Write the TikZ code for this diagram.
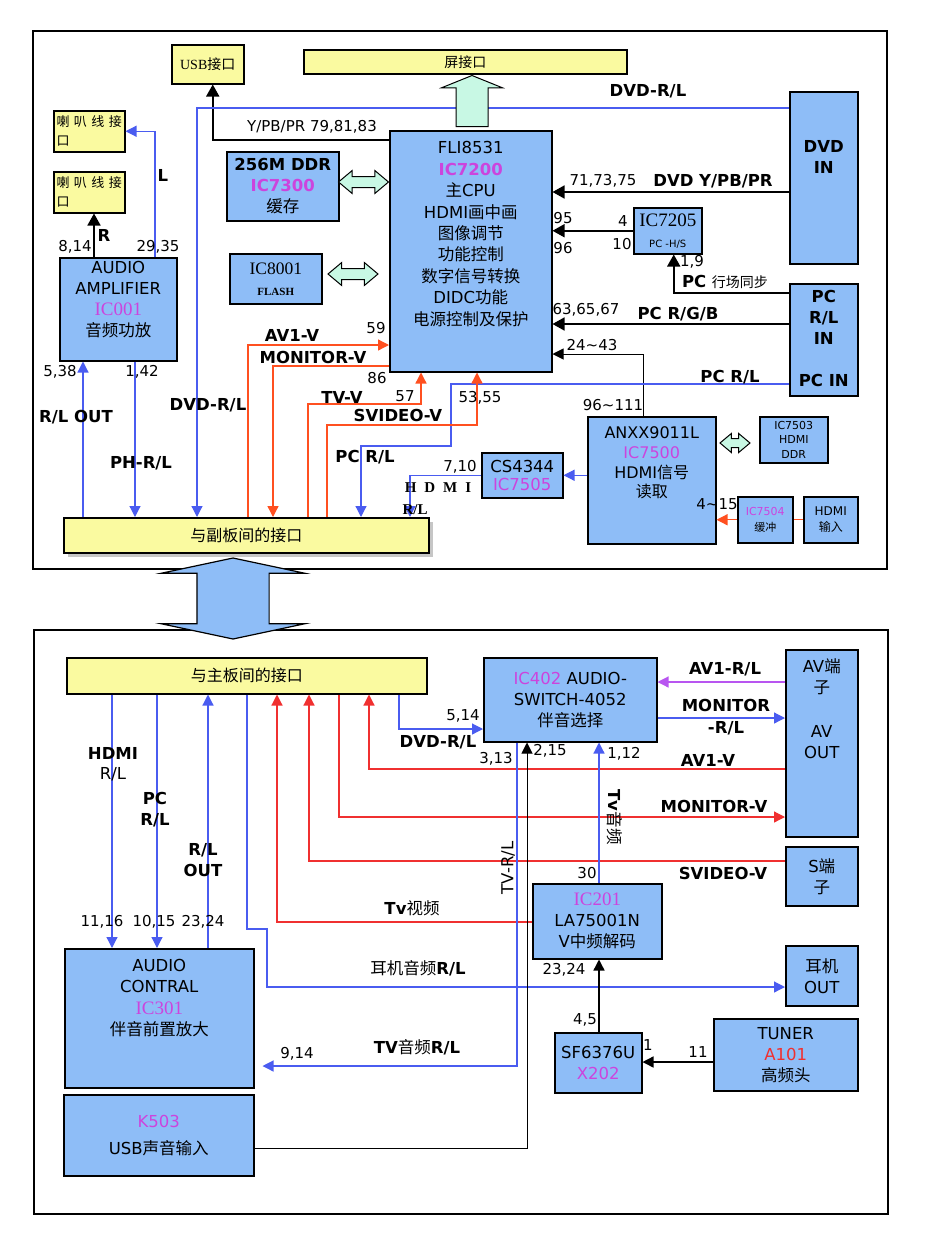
\documentclass[tikz,border=0pt]{standalone}
\usepackage{fontspec}
\setmainfont{DejaVu Sans}
\newfontfamily\cjk{Noto Sans CJK SC}
\newfontfamily\serifen{Liberation Serif}
\usetikzlibrary{arrows.meta,positioning,shapes.arrows,shadows}
\definecolor{azulbox}{HTML}{8EBDF7}
\definecolor{amarillo}{HTML}{FAFAA0}
\definecolor{menta}{HTML}{C8F8E4}
\definecolor{lineazul}{HTML}{4A5CF0}
\definecolor{rojoarriba}{HTML}{FF5020}
\definecolor{rojoabajo}{HTML}{F03030}
\definecolor{morado}{HTML}{B855F0}
\definecolor{icrosa}{HTML}{CC44DD}
\newcommand{\zh}[1]{{\cjk #1}}
\newcommand{\icname}[1]{\textcolor{icrosa}{#1}}
\newcommand{\fsmain}{\fontsize{16.5}{21}\selectfont}
\newcommand{\fsnum}{\fontsize{15}{18}\selectfont}
\newcommand{\fsserif}{\serifen\fontsize{19}{21}\selectfont}
\tikzset{
  frame/.style={draw,line width=1.5pt,anchor=north west,inner sep=0pt},
  blk/.style={draw,line width=1.5pt,fill=azulbox,anchor=north west,inner sep=1pt,
    align=center,font=\fsmain},
  ybox/.style={draw,line width=1.5pt,fill=amarillo,anchor=north west,inner sep=1pt,align=center},
  spk/.style={minimum width=71pt,minimum height=41pt,align=left,
    inner sep=2pt,font=\fontsize{13}{19}\selectfont},
  txt/.style={align=center,inner sep=0pt,font=\fsmain},
  lab/.style={inner sep=0pt,align=center,font=\fsmain\bfseries},
  num/.style={inner sep=0pt,font=\fsnum},
  mintdbl/.style={double arrow,draw,fill=menta,line width=1pt,inner xsep=0pt,
    inner ysep=5pt,double arrow head extend=6pt,double arrow tip angle=80},
  tipa/.style={-{Triangle[length=11pt,width=11pt]}},
  bluearr/.style={draw=lineazul,line width=1.2pt,tipa},
  redarr/.style={draw=rojoarriba,line width=1.3pt,tipa},
  redbarr/.style={draw=rojoabajo,line width=1.2pt,tipa},
  blackarr/.style={draw=black,line width=1.6pt,-{Triangle[length=12pt,width=13pt]}},
  thinarr/.style={draw=black,line width=1pt,tipa}
}
\begin{document}
\begin{tikzpicture}[x=1pt,y=-1pt]
\useasboundingbox (0,0) rectangle (950,1258);
\node[frame,minimum width=854pt,minimum height=538pt] (upper) at (32,30) {};
\node[frame,minimum width=854pt,minimum height=584pt] (lower) at (33,629) {};

\node[ybox,minimum width=72pt,minimum height=39pt,font=\serifen\fontsize{14}{16}\selectfont] (usb) at (171,44) {USB\zh{接口}};
\node[ybox,minimum width=323pt,minimum height=24pt,font=\fontsize{14}{16}\selectfont] (screen) at (303,49) {\zh{屏接口}};
\node[ybox,spk] (spk1) at (53,110) {\zh{喇\hspace{4.5pt}叭\hspace{4.5pt}线\hspace{4.5pt}接}\\\zh{口}};
\node[ybox,spk] (spk2) at (53,171) {\zh{喇\hspace{4.5pt}叭\hspace{4.5pt}线\hspace{4.5pt}接}\\\zh{口}};
\node[blk,minimum width=117pt,minimum height=103pt] (amp) at (59,257) {};
\node[txt] (amptxt) at (amp.center |- 0,300) {AUDIO\\AMPLIFIER\\\icname{\fsserif IC001}\\\zh{音频功放}};
\node[blk,minimum width=162pt,minimum height=241pt] (cpu) at (389,130) {};
\node[txt,font=\fontsize{16.5}{21.4}\selectfont] (cputxt) at (cpu.center |- 0,234) {FLI8531\\{\bfseries\icname{IC7200}}\\\zh{主}CPU\\HDMI\zh{画中画}\\\zh{图像调节}\\\zh{功能控制}\\\zh{数字信号转换}\\DIDC\zh{功能}\\\zh{电源控制及保护}};
\node[blk,minimum width=112pt,minimum height=69pt] (ddr) at (226,151) {\textbf{256M DDR}\\\textbf{\icname{IC7300}}\\\zh{缓存}};
\node[blk,minimum width=92pt,minimum height=50pt] (flash) at (229,253) {{\serifen\fontsize{17.5}{19}\selectfont IC8001}\\{\serifen\bfseries\fontsize{11}{14}\selectfont FLASH}};
\node[blk,minimum width=68pt,minimum height=172pt] (dvd) at (789,91) {};
\node[lab] (dvdtxt) at (dvd.center |- 0,157) {DVD\\IN};
\node[blk,minimum width=68pt,minimum height=112pt] (pc) at (789,283) {};
\node[lab] (pctxt) at (pc.center |- 0,317) {PC\\R/L\\IN};
\node[lab] (pcin) at (pc.center |- 0,380) {PC IN};
\node[blk,minimum width=68pt,minimum height=46pt] (ic7205) at (633,207) {{\serifen\fontsize{19}{19}\selectfont IC7205}\\{\fontsize{10}{12}\selectfont PC -H/S}};
\node[blk,minimum width=128pt,minimum height=127pt] (anxx) at (587,416) {};
\node[txt,font=\fontsize{16}{19.7}\selectfont] (anxxtxt) at (anxx.center |- 0,463) {ANXX9011L\\\icname{IC7500}\\HDMI\zh{信号}\\\zh{读取}};
\node[blk,minimum width=81pt,minimum height=45pt,font=\fontsize{16.5}{18}\selectfont] (cs) at (481,452) {CS4344\\\icname{IC7505}};
\node[blk,minimum width=68pt,minimum height=46pt,font=\fontsize{11}{14.5}\selectfont] (ic7503) at (759,416) {IC7503\\HDMI\\DDR};
\node[blk,minimum width=55pt,minimum height=46pt,font=\fontsize{11}{16}\selectfont] (ic7504) at (737,496) {\icname{IC7504}\\\zh{缓冲}};
\node[blk,minimum width=54pt,minimum height=46pt,font=\fontsize{12}{16}\selectfont] (hdmiin) at (803,496) {HDMI\\\zh{输入}};
\node[ybox,drop shadow={shadow xshift=4pt,shadow yshift=-4pt,opacity=.45},minimum width=365pt,minimum height=35pt,font=\fontsize{16}{18}\selectfont] (subconn) at (63,517) {\zh{与副板间的接口}};

\node[ybox,minimum width=360pt,minimum height=36pt,font=\fontsize{16}{18}\selectfont] (mainconn) at (66,657) {\zh{与主板间的接口}};
\node[blk,minimum width=173pt,minimum height=84pt] (ic402) at (483,657) {\icname{IC402} AUDIO-\\SWITCH-4052\\\zh{伴音选择}};
\node[blk,minimum width=72pt,minimum height=187pt] (av) at (785,649) {};
\node[txt] (avtxt) at (av.center |- 0,677) {AV\zh{端}\\\zh{子}};
\node[txt] (avout) at (av.center |- 0,742) {AV\\OUT};
\node[blk,minimum width=72pt,minimum height=59pt] (sbox) at (785,846) {S\zh{端}\\\zh{子}};
\node[blk,minimum width=72pt,minimum height=60pt] (ear) at (785,945) {\zh{耳机}\\OUT};
\node[blk,minimum width=144pt,minimum height=72pt] (tuner) at (713,1018) {TUNER\\\textcolor{rojoabajo}{A101}\\\zh{高频头}};
\node[blk,minimum width=87pt,minimum height=60pt] (sf) at (554,1032) {SF6376U\\\icname{X202}};
\node[blk,minimum width=129pt,minimum height=75pt] (ic201) at (532,883) {\icname{\fsserif IC201}\\LA75001N\\V\zh{中频解码}};
\node[blk,minimum width=189pt,minimum height=139pt] (actl) at (64,948) {};
\node[txt,font=\fontsize{16.5}{21.5}\selectfont] (actltxt) at (actl.center |- 0,998) {AUDIO\\CONTRAL\\\icname{\fsserif IC301}\\\zh{伴音前置放大}};
\node[blk,minimum width=190pt,minimum height=81pt,font=\fontsize{16.5}{27}\selectfont] (k503) at (63,1094) {\icname{K503}\\USB\zh{声音输入}};

\draw[blackarr] (cpu.west |- 0,140) -| ([xshift=5pt]usb.south);
\draw[bluearr] (dvd.west |- 0,108) -| (subconn.north -| 197,0);
\draw[blackarr] (dvd.west |- 0,192) -- (cpu.east |- 0,192);
\draw[blackarr] (ic7205.west) -- (cpu.east |- ic7205.west);
\draw[blackarr] (pc.west |- 0,293) -| ([xshift=6pt]ic7205.south);
\draw[blackarr] (pc.west |- 0,324) -- (cpu.east |- 0,324);
\draw[thinarr] ([xshift=-8pt]anxx.north) |- (cpu.east |- 0,354);
\draw[bluearr] (pc.west |- 0,384) -| (451,446) -| (subconn.north -| 361,0);
\draw[bluearr] (cs.west) -| (subconn.north -| 410,0);
\draw[bluearr] (anxx.west |- cs.east) -- (cs.east);
\draw[draw=rojoarriba,line width=1.3pt] (hdmiin.west) -- (ic7504.east);
\draw[redarr] (ic7504.west) -- (anxx.east |- ic7504.west);
\draw[redarr] (subconn.north -| 248,0) |- (cpu.west |- 0,345);
\draw[redarr] (cpu.west |- 0,366) -| (subconn.north -| 273,0);
\draw[redarr] (subconn.north -| 308,0) |- (421,404) -- (cpu.south -| 421,0);
\draw[redarr] (subconn.north -| 327,0) |- (477,425) -- (cpu.south -| 477,0);
\draw[blackarr] (amp.north -| 94,0) -- (spk2.south -| 94,0);
\draw[bluearr] (amp.north -| 155,0) |- (spk1.east);
\draw[bluearr] (subconn.north -| 83,0) -- (amp.south -| 83,0);
\draw[bluearr] (amp.south -| 135,0) -- (subconn.north -| 135,0);

\draw[bluearr] (mainconn.south -| 112,0) -- (actl.north -| 112,0);
\draw[bluearr] (mainconn.south -| 157,0) -- (actl.north -| 157,0);
\draw[bluearr] (actl.north -| 208,0) -- (mainconn.south -| 208,0);
\draw[bluearr] (mainconn.south -| 247,0) |- (267,929) |- (ear.west |- 0,987);
\draw[redbarr] (ic201.west |- 0,922) -| (mainconn.south -| 277,0);
\draw[redbarr] (sbox.west |- 0,861) -| (mainconn.south -| 309,0);
\draw[redbarr] (mainconn.south -| 339,0) |- (av.west |- 0,817);
\draw[redbarr] (av.west |- 0,769) -| (mainconn.south -| 369,0);
\draw[bluearr] (mainconn.south -| 399,0) |- (ic402.west |- 0,729);
\draw[draw=morado,line width=1.2pt,tipa] (av.west |- 0,682) -- (ic402.east |- 0,682);
\draw[bluearr] (ic402.east |- 0,718) -- (av.west |- 0,718);
\draw[bluearr] (ic201.north -| 599,0) -- (ic402.south -| 599,0);
\draw[bluearr,shorten >=8pt] (ic402.south -| 517,0) |- (actl.east |- 0,1066);
\draw[thinarr] (k503.east |- 0,1148) -| (ic402.south -| 527,0);
\draw[thinarr,line width=1.4pt] (sf.north -| 599,0) -- (ic201.south -| 599,0);
\draw[thinarr,line width=1.4pt] (tuner.west |- 0,1062) -- (sf.east |- 0,1062);

\node[single arrow,draw,fill=menta,line width=1pt,inner xsep=0pt,inner ysep=15.5pt,
  rotate=90,anchor=tail,minimum height=51pt,single arrow head extend=14.5pt,
  single arrow tip angle=136] (scrarrow) at (472,127) {};
\node[mintdbl,minimum height=50pt] (ddrlink) at (363.5,182) {};
\node[mintdbl,minimum height=50pt] (flashlink) at (353,274) {};
\node[mintdbl,minimum height=30pt,inner ysep=4pt,double arrow head extend=5pt] (hdmiddrlink) at (735,443) {};
\node[double arrow,draw,fill=azulbox,line width=1.2pt,inner xsep=0pt,inner ysep=35.5pt,
  rotate=90,minimum height=81pt,double arrow head extend=36pt,
  double arrow tip angle=156] (boardlink) at (233,598.5) {};

\node[num] (nypbpr) at (312,127) {Y/PB/PR 79,81,83};
\node[lab] (ldvdtop) at (648,91) {DVD-R/L};
\node[num] (n717375) at (603,181) {71,73,75};
\node[lab] (ldvdy) at (713,181) {DVD Y/PB/PR};
\node[num] (n95) at (563,218) {95};
\node[num] (n96) at (563,248) {96};
\node[num] (n4) at (623,221) {4};
\node[num] (n10) at (622,244) {10};
\node[num] (n19) at (692,262) {1,9};
\node[lab] (lsync) at (725,282) {PC {\mdseries\fontsize{14}{16}\selectfont\zh{行场同步}}};
\node[num] (n636567) at (586,310) {63,65,67};
\node[lab] (lrgb) at (678,314) {PC R/G/B};
\node[num] (n2443) at (592,345) {24\textasciitilde 43};
\node[lab] (lpcrl) at (730,377) {PC R/L};
\node[num] (n96111) at (613,405) {96\textasciitilde 111};
\node[num] (n415) at (717,504) {4\textasciitilde 15};
\node[lab] (lL) at (163,175) {L};
\node[lab] (lR) at (104,235) {R};
\node[num] (n814) at (75,247) {8,14};
\node[num] (n2935) at (158,247) {29,35};
\node[num] (n538) at (60,372) {5,38};
\node[num] (n142) at (142,372) {1,42};
\node[lab] (lrlout) at (76,417) {R/L OUT};
\node[lab] (lphrl) at (141,463) {PH-R/L};
\node[lab] (ldvdleft) at (208,405) {DVD-R/L};
\node[lab] (lav1v) at (292,335) {AV1-V};
\node[num] (n59) at (376,328) {59};
\node[lab] (lmonv) at (313,357) {MONITOR-V};
\node[num] (n86) at (377,378) {86};
\node[lab] (ltvv) at (342,397) {TV-V};
\node[num] (n57) at (405,396) {57};
\node[lab] (lsvv) at (398,415) {SVIDEO-V};
\node[num] (n5355) at (480,398) {53,55};
\node[lab] (lpcrl2) at (365,457) {PC R/L};
\node[num] (n710) at (460,467) {7,10};
\node[lab,font=\serifen\bfseries\fontsize{15}{17}\selectfont] (lhdmi) at (438,488) {H\hspace{8pt}D\hspace{8pt}M\hspace{8pt}I};
\node[lab,font=\serifen\bfseries\fontsize{15}{17}\selectfont] (lhdmirl) at (415,510) {R/L};

\node[lab] (lhdmib) at (113,753) {HDMI};
\node[txt] (lhdmirlb) at (113,774) {R/L};
\node[lab] (lpcb) at (155,810) {PC\\R/L};
\node[lab] (lrloutb) at (203,860) {R/L\\OUT};
\node[num] (n1116) at (102,922) {11,16};
\node[num] (n1015) at (154,922) {10,15};
\node[num] (n2324a) at (203,922) {23,24};
\node[lab] (ltvvid) at (412,908) {Tv{\mdseries\zh{视频}}};
\node[lab] (learrl) at (418,968) {{\mdseries\zh{耳机音频}}R/L};
\node[lab] (ltvaud) at (417,1047) {TV{\mdseries\zh{音频}}R/L};
\node[num] (n914) at (297,1054) {9,14};
\node[num] (n514) at (463,716) {5,14};
\node[lab] (ldvdb) at (438,742) {DVD-R/L};
\node[num] (n313) at (496,759) {3,13};
\node[num] (n215) at (550,751) {2,15};
\node[num] (n112) at (624,754) {1,12};
\node[txt,rotate=90] (ltvrl) at (508,868) {TV-R/L};
\node[lab,rotate=-90] (ltvaud2) at (615,817) {Tv{\mdseries\zh{音频}}};
\node[num] (n30) at (587,873) {30};
\node[lab] (lav1rl) at (725,669) {AV1-R/L};
\node[lab,font=\fontsize{16.5}{22}\selectfont\bfseries] (lmonrl) at (726,717) {MONITOR\\-R/L};
\node[lab] (lav1vb) at (708,760) {AV1-V};
\node[lab] (lmonvb) at (714,806) {MONITOR-V};
\node[lab] (lsvvb) at (723,873) {SVIDEO-V};
\node[num] (n2324b) at (564,970) {23,24};
\node[num] (n45) at (585,1020) {4,5};
\node[num] (n1) at (648,1045) {1};
\node[num] (n11) at (698,1052) {11};
\end{tikzpicture}
\end{document}
